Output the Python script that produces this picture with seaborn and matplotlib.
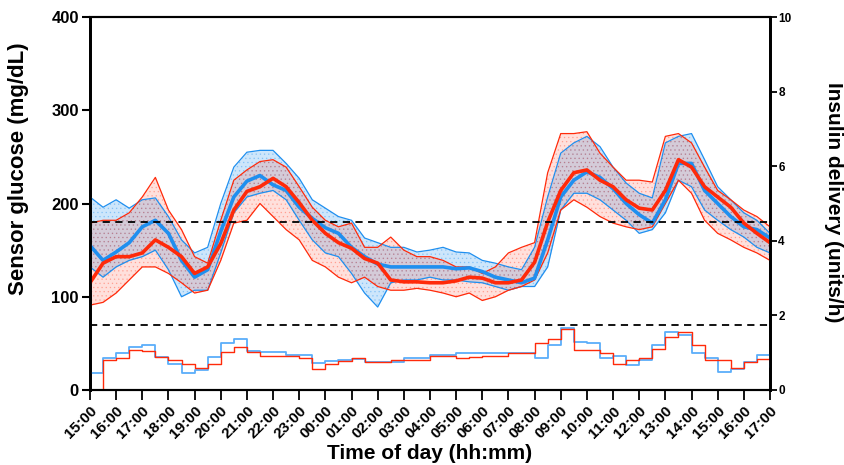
import matplotlib
matplotlib.use("Agg")
import matplotlib.pyplot as plt
import seaborn as sns
import numpy as np
import pandas as pd

# time axis: hours after 15:00, every 30 min, up to 17:00 next day
hours = np.arange(0, 26.01, 0.5)

tick_labels = ["15:00", "16:00", "17:00", "18:00", "19:00", "20:00", "21:00", "22:00",
               "23:00", "00:00", "01:00", "02:00", "03:00", "04:00", "05:00", "06:00",
               "07:00", "08:00", "09:00", "10:00", "11:00", "12:00", "13:00", "14:00",
               "15:00", "16:00", "17:00"]

# sensor glucose (mg/dL)
blue_median = [155, 139, 148, 158, 175, 182, 168, 139, 121, 129, 170, 207, 224, 230, 220, 214,
               196, 184, 174, 168, 153, 143, 135, 132, 132, 132, 132, 132, 130, 131, 127, 121,
               118, 115, 120, 161, 207, 225, 234, 228, 216, 200, 188, 179, 204, 243, 243, 214,
               200, 186, 175, 172, 163]
blue_upper = [207, 196, 204, 195, 204, 206, 186, 161, 147, 153, 200, 239, 255, 257, 257, 243,
              227, 204, 195, 186, 182, 163, 158, 153, 153, 148, 150, 153, 148, 147, 139, 136,
              132, 129, 153, 207, 254, 265, 272, 261, 239, 222, 211, 206, 265, 272, 275, 247,
              218, 204, 190, 182, 168]
blue_lower = [132, 121, 132, 139, 143, 150, 129, 100, 107, 107, 147, 190, 207, 211, 214, 204,
              182, 161, 147, 143, 125, 104, 89, 115, 118, 118, 121, 118, 118, 116, 115, 111,
              107, 111, 111, 132, 193, 211, 211, 204, 193, 182, 168, 172, 190, 225, 218, 193,
              182, 172, 164, 153, 147]

red_median = [115, 136, 143, 143, 147, 161, 153, 143, 125, 132, 157, 193, 213, 218, 227, 218,
              201, 182, 168, 158, 152, 141, 136, 118, 116, 116, 115, 115, 117, 121, 120, 115,
              115, 118, 137, 180, 214, 233, 236, 225, 218, 204, 195, 193, 214, 247, 239, 218,
              207, 196, 179, 168, 158]
red_upper = [179, 182, 182, 190, 207, 228, 193, 172, 143, 136, 182, 225, 236, 245, 247, 239,
             218, 196, 182, 175, 179, 153, 153, 164, 150, 143, 143, 139, 132, 132, 125, 132,
             147, 153, 158, 233, 275, 275, 277, 254, 239, 225, 225, 223, 272, 275, 265, 239,
             214, 204, 193, 186, 175]
red_lower = [91, 94, 104, 118, 132, 132, 125, 115, 104, 107, 139, 179, 182, 200, 186, 172,
             161, 139, 132, 121, 115, 121, 111, 107, 107, 109, 107, 104, 100, 104, 96, 100,
             107, 111, 118, 147, 193, 204, 196, 186, 179, 175, 172, 175, 200, 225, 211, 182,
             168, 161, 153, 147, 139]

# insulin delivery (units/h)
blue_insulin = [0.45, 0.85, 0.98, 1.16, 1.2, 0.88, 0.71, 0.46, 0.53, 0.88, 1.27, 1.38, 1.05,
                1.02, 1.02, 0.95, 0.95, 0.73, 0.78, 0.8, 0.82, 0.76, 0.76, 0.76, 0.86, 0.86,
                0.95, 0.95, 1.0, 1.0, 0.98, 1.0, 1.0, 1.0, 0.87, 1.2, 1.66, 1.3, 1.25, 0.87,
                0.92, 0.67, 0.8, 1.2, 1.56, 1.47, 1.0, 0.87, 0.49, 0.55, 0.75, 0.95, 0.62]
red_insulin = [0.0, 0.8, 0.86, 1.07, 1.05, 0.88, 0.8, 0.71, 0.58, 0.71, 1.02, 1.15, 1.02,
               0.92, 0.92, 0.92, 0.85, 0.55, 0.71, 0.78, 0.86, 0.76, 0.76, 0.8, 0.8, 0.8,
               0.92, 0.92, 0.86, 0.88, 0.92, 0.92, 1.0, 1.0, 1.25, 1.38, 1.63, 1.07, 1.07,
               0.98, 0.71, 0.8, 0.87, 1.1, 1.43, 1.56, 1.2, 0.8, 0.8, 0.6, 0.76, 0.82, 0.71]

BLUE = "#1f8fef"
RED = "#ff2a0a"
BLUE_LIGHT = "#5aaefa"

df = pd.DataFrame({"t": hours, "bm": blue_median, "bu": blue_upper, "bl": blue_lower,
                   "rm": red_median, "ru": red_upper, "rl": red_lower,
                   "bi": blue_insulin, "ri": red_insulin})

sns.set_style("ticks", {"axes.edgecolor": "black", "text.color": "black",
                        "axes.labelcolor": "black", "xtick.color": "black",
                        "ytick.color": "black"})
plt.rcParams["font.family"] = ["Liberation Sans", "DejaVu Sans"]
plt.rcParams["font.weight"] = "bold"
plt.rcParams["hatch.linewidth"] = 0.5

fig = plt.figure(figsize=(8.44, 4.65), dpi=100)
ax = fig.add_axes([0.1066, 0.1613, 0.8057, 0.8021])
ax2 = ax.twinx()

# IQR bands
ax.fill_between(df["t"], df["bl"], df["bu"], facecolor=BLUE, alpha=0.22, lw=0, zorder=1)
ax.fill_between(df["t"], df["bl"], df["bu"], facecolor="none", edgecolor=BLUE, hatch="....",
                alpha=0.3, lw=0, zorder=1)
ax.fill_between(df["t"], df["rl"], df["ru"], facecolor=RED, alpha=0.14, lw=0, zorder=2)
ax.fill_between(df["t"], df["rl"], df["ru"], facecolor="none", edgecolor=RED, hatch="....",
                alpha=0.25, lw=0, zorder=2)
for col, c in [("bu", BLUE), ("bl", BLUE), ("ru", RED), ("rl", RED)]:
    sns.lineplot(data=df, x="t", y=col, color=c, lw=0.9, ax=ax, zorder=3)

# medians
sns.lineplot(data=df, x="t", y="bm", color=BLUE, lw=2.6, ax=ax, zorder=4)
sns.lineplot(data=df, x="t", y="rm", color=RED, lw=2.6, ax=ax, zorder=5)

# target range
ax.axhline(180, color="black", ls=(0, (4, 3)), lw=1.3, zorder=6)
ax.axhline(70, color="black", ls=(0, (4, 3)), lw=1.3, zorder=6)

# insulin delivery
sns.lineplot(data=df, x="t", y="bi", color=BLUE_LIGHT, lw=1.3, drawstyle="steps-post", ax=ax2)
sns.lineplot(data=df, x="t", y="ri", color=RED, lw=1.0, drawstyle="steps-post", ax=ax2)

ax.set_xlim(0, 26)
ax.set_ylim(0, 400)
ax2.set_ylim(0, 10)
ax.set_yticks([0, 100, 200, 300, 400])
ax2.set_yticks([0, 2, 4, 6, 8, 10])
ax.set_xticks(np.arange(0, 27, 1))
ax.set_xticklabels(tick_labels, rotation=45, ha="right", rotation_mode="anchor",
                   fontsize=11, fontweight="bold")
ax.tick_params(axis="y", labelsize=12, length=6, width=1.5, pad=2, colors="black")
ax.tick_params(axis="x", length=7, width=1.3, pad=3, colors="black")
ax2.tick_params(axis="y", labelsize=8.5, length=5, width=1.3, pad=1, colors="black")
for a in (ax, ax2):
    for s in a.spines.values():
        s.set_linewidth(1.5)
        s.set_color("black")
        s.set_visible(True)
    a.spines["left"].set_linewidth(2)
    a.spines["right"].set_linewidth(2)

ax.set_xlabel("Time of day (hh:mm)", fontsize=15, fontweight="bold", labelpad=2, color="black")
ax.set_ylabel("")
ax2.set_ylabel("")
fig.text(0.022, 0.638, "Sensor glucose (mg/dL)", rotation=90, ha="center", va="center",
         fontsize=16, fontweight="bold", color="black")
fig.text(0.988, 0.565, "Insulin delivery (units/h)", rotation=270, ha="center", va="center",
         fontsize=15, fontweight="bold", color="black")

fig.savefig("out.png", dpi=100)
